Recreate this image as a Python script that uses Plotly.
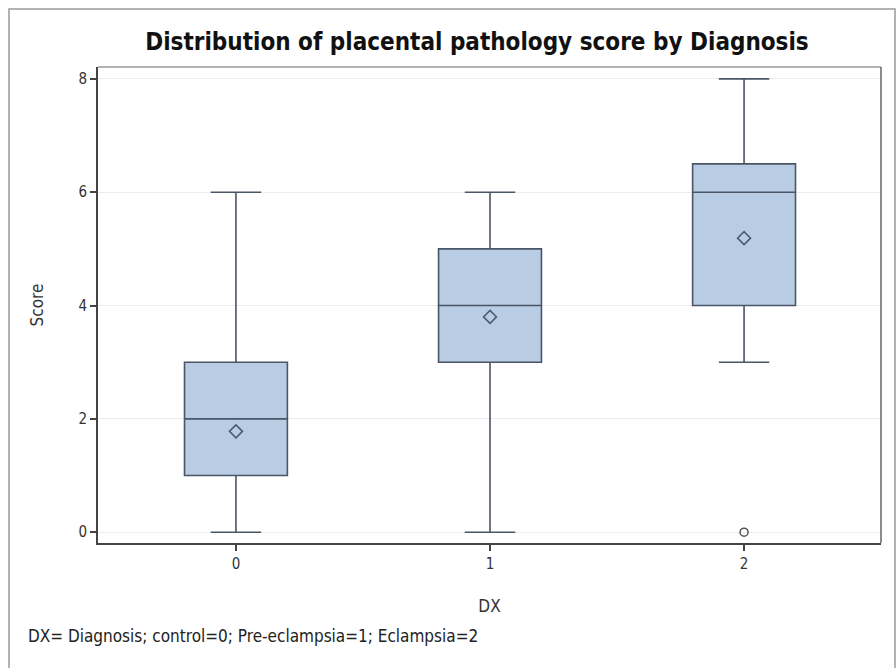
import plotly.graph_objects as go

dx = [0, 1, 2]
q1 = [1, 3, 4]
median = [2, 4, 6]
q3 = [3, 5, 6.5]
lower = [0, 0, 3]
upper = [6, 6, 8]
means = [1.78, 3.80, 5.19]
outlier_x = [2]
outlier_y = [0]
yticks = [0, 2, 4, 6, 8]

font_main = "Liberation Sans Narrow, DejaVu Sans Condensed, Liberation Sans, sans-serif"

def f(size, color="#333333"):
    return dict(family=font_main, size=size, color=color)

fig = go.Figure()
fig.add_trace(go.Box(
    x=dx, q1=q1, median=median, q3=q3, lowerfence=lower, upperfence=upper,
    width=0.405, whiskerwidth=0.49,
    fillcolor="#b8cce4", line=dict(color="#4a5566", width=1.6),
    boxpoints=False, showlegend=False, hoverinfo="skip",
))
fig.add_trace(go.Scatter(
    x=dx, y=means, mode="markers",
    marker=dict(symbol="diamond-open", size=10, color="#4a5a70", line=dict(width=1.5, color="#4a5a70")),
    showlegend=False, hoverinfo="skip",
))
fig.add_trace(go.Scatter(
    x=outlier_x, y=outlier_y, mode="markers",
    marker=dict(symbol="circle-open", size=8, color="#555555", line=dict(width=1.5, color="#555555")),
    showlegend=False, hoverinfo="skip",
))

fig.update_layout(
    width=896, height=668,
    margin=dict(l=98, r=15, t=67, b=125),
    paper_bgcolor="white", plot_bgcolor="white",
    title=dict(text="<b>Distribution of placental pathology score by Diagnosis</b>",
               x=(477 - 98) / 783, xref="paper", xanchor="center", y=0.937, yanchor="middle",
               font=f(24, "#111111")),
    xaxis=dict(
        range=[-0.543, 2.539], tickmode="array", tickvals=dx, ticktext=[str(v) for v in dx],
        showgrid=False, zeroline=False, showline=True, linecolor="#444444", linewidth=2,
        ticks="outside", ticklen=6, tickcolor="#444444", tickwidth=1.5,
        tickfont=f(15),
        title=dict(text="DX", font=f(17), standoff=28),
    ),
    yaxis=dict(
        range=[-0.19, 8.21], tickmode="array", tickvals=yticks,
        showgrid=True, gridcolor="#ececec", gridwidth=1, zeroline=False,
        showline=True, linecolor="#444444", linewidth=2,
        ticks="outside", ticklen=6, tickcolor="#444444", tickwidth=1.5,
        tickfont=f(15),
        title=dict(text="Score", font=f(17), standoff=30),
    ),
    shapes=[
        dict(type="line", xref="paper", yref="paper", x0=0, x1=1, y0=1, y1=1,
             line=dict(color="#999999", width=1.5)),
        dict(type="line", xref="paper", yref="paper", x0=1, x1=1, y0=0, y1=1,
             line=dict(color="#666666", width=1.5)),
        dict(type="rect", xref="paper", yref="paper",
             x0=(9 - 98) / 783, x1=(895 - 98) / 783, y0=(543 - 700) / 476, y1=(543 - 9) / 476,
             line=dict(color="#999999", width=1.5)),
    ],
    annotations=[
        dict(text="DX= Diagnosis; control=0; Pre-eclampsia=1; Eclampsia=2",
             xref="paper", yref="paper", x=(26 - 98) / 783, y=(543 - 636) / 476,
             xanchor="left", yanchor="middle", showarrow=False,
             font=f(17, "#222222")),
    ],
)

fig.write_html("out.html", config={"displayModeBar": False},
               post_script="document.body.style.margin='0';document.body.style.overflow='hidden';")
